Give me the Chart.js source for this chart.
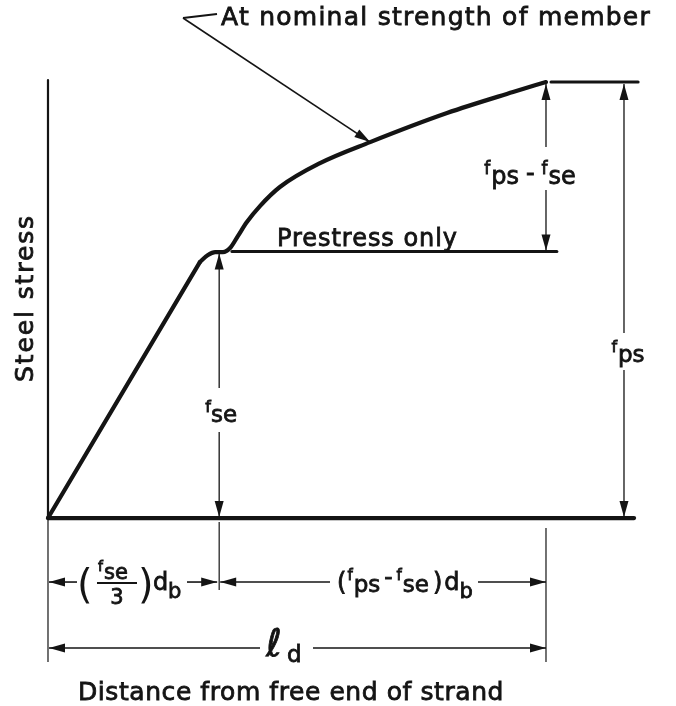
<!DOCTYPE html>
<html>
<head>
<meta charset="utf-8">
<script src="https://cdn.jsdelivr.net/npm/chart.js@4.4.1/dist/chart.umd.min.js"></script>
<style>
  html, body { margin: 0; padding: 0; background: #fff; }
  canvas { display: block; }
</style>
</head>
<body>
<canvas id="grafico" width="676" height="706"></canvas>
<script>
// Tensiones en ksi, distancias en diametros de cable (db)
const fps = 270;
const fse = 165;
const transferencia = fse / 3;        // (fse/3) db
const adherencia = fps - fse;         // (fps - fse) db
const ld = transferencia + adherencia;

// tramo recto inicial (longitud de transferencia)
const rectaX = [0, 48.8];
const rectaY = [0, 158.5];
// curva "At nominal strength of member"
const curvaX = [48.8, 51.4, 53.7, 56.2, 58.5, 61.0, 63.9, 68.1, 74.5, 87.4, 103.5, 128.2, 149.4, 160];
const curvaY = [158.5, 162.9, 164.7, 164.7, 167.2, 174.6, 183.3, 193.2, 205.0, 219.8, 232.8, 250.8, 263.8, 270];
const puntoFlecha = 10; // punto de la curva donde llega la flecha del titulo

// rectas del dibujo
const prestressX = [59.1, 163.5];
const topeX = [161.6, 189.6];
const baseX = [0, 188.3];
const ejeY = [0, 271.2];

// textos
const titulo = "At nominal strength of member";
const etiquetaPrestress = "Prestress only";
const etiquetaY = "Steel stress";
const etiquetaX = "Distance from free end of strand";

const tinta = "#141414";
const FUENTE = '"DejaVu Sans", sans-serif';

//---------------------------------- ayudas de dibujo ----------------------------------//
function linea(ctx, x1, y1, x2, y2, ancho) {
  ctx.beginPath();
  ctx.lineWidth = ancho || 1.3;
  ctx.moveTo(x1, y1);
  ctx.lineTo(x2, y2);
  ctx.stroke();
}

// texto un poco mas grueso, como el rotulado del original
function pintar(ctx, txt, x, y) {
  ctx.fillText(txt, x, y);
  ctx.lineWidth = 0.8;
  ctx.strokeText(txt, x, y);
}

// punta de flecha en (x2,y2) que viene desde (x1,y1)
function punta(ctx, x1, y1, x2, y2) {
  const largo = 16, ancho = 4.5;
  const a = Math.atan2(y2 - y1, x2 - x1);
  const c = Math.cos(a), s = Math.sin(a);
  ctx.beginPath();
  ctx.moveTo(x2, y2);
  ctx.lineTo(x2 - largo * c + ancho * s, y2 - largo * s - ancho * c);
  ctx.lineTo(x2 - largo * c - ancho * s, y2 - largo * s + ancho * c);
  ctx.closePath();
  ctx.fill();
}

function cotaV(ctx, x, yArriba, yAbajo, hueco1, hueco2) {
  linea(ctx, x, yArriba, x, hueco1);
  linea(ctx, x, hueco2, x, yAbajo);
  punta(ctx, x, yArriba + 20, x, yArriba);
  punta(ctx, x, yAbajo - 20, x, yAbajo);
}

function cotaH(ctx, y, xIzq, xDer, hueco1, hueco2) {
  linea(ctx, xIzq, y, hueco1, y, 1.6);
  linea(ctx, hueco2, y, xDer, y, 1.6);
  punta(ctx, xIzq + 20, y, xIzq, y);
  punta(ctx, xDer - 20, y, xDer, y);
}

// texto ajustado a un ancho usando letterSpacing
function textoAncho(ctx, txt, x, y, ancho, tam) {
  ctx.font = tam + "px " + FUENTE;
  ctx.letterSpacing = "0px";
  const w = ctx.measureText(txt).width;
  ctx.letterSpacing = ((ancho - w) / txt.length) + "px";
  ctx.textAlign = "left";
  pintar(ctx, txt, x, y);
  ctx.letterSpacing = "0px";
}

// partes: [texto, tamaño, dy, espacio despues]
function escribir(ctx, partes, xCentro, y) {
  let total = 0;
  partes.forEach(p => {
    ctx.font = p[1] + "px " + FUENTE;
    total += ctx.measureText(p[0]).width + (p[3] || 0);
  });
  let x = xCentro - total / 2;
  ctx.textAlign = "left";
  partes.forEach(p => {
    ctx.font = p[1] + "px " + FUENTE;
    pintar(ctx, p[0], x, y + p[2]);
    x += ctx.measureText(p[0]).width + (p[3] || 0);
  });
}

//---------------------------------- plugin de cotas y textos ----------------------------------//
const cotas = {
  id: "cotas",
  afterDatasetsDraw(chart) {
    const ctx = chart.ctx;
    const sx = chart.scales.x, sy = chart.scales.y;
    const x0 = sx.getPixelForValue(0);
    const xT = sx.getPixelForValue(transferencia);
    const xL = sx.getPixelForValue(ld);
    const xF = xL + 78;
    const y0 = sy.getPixelForValue(0);
    const yse = sy.getPixelForValue(fse);
    const yps = sy.getPixelForValue(fps);
    const fila1 = y0 + 64;
    const fila2 = y0 + 130;

    ctx.save();
    ctx.strokeStyle = tinta;
    ctx.fillStyle = tinta;
    ctx.textBaseline = "alphabetic";

    // lineas de referencia bajo el eje
    linea(ctx, x0, y0, x0, fila2 + 14, 1.2);
    linea(ctx, xT, y0 + 4, xT, fila1 + 8, 1.2);
    linea(ctx, xL, y0 + 10, xL, fila2 + 14, 1.2);

    // cotas verticales
    cotaV(ctx, xT, yse + 2, y0 - 1, 388, 432);
    cotaV(ctx, xL, yps + 2, yse - 1, 147, 190);
    cotaV(ctx, xF, yps + 2, y0 - 1, 333, 370);

    escribir(ctx, [["f", 16, -10, 0], ["se", 23, 0, 0]], xT + 2, 422);
    escribir(ctx, [["f", 17, -10, 1], ["ps", 24, 0, 7], ["-", 24, -3, 7], ["f", 17, -10, 1], ["se", 24, 0, 2]], xL - 15, 184);
    escribir(ctx, [["f", 16, -10, 1], ["ps", 23, 0, 0]], xF + 4, 362);

    // cotas horizontales
    cotaH(ctx, fila1, x0 + 1, xT - 2, x0 + 29, x0 + 139);
    cotaH(ctx, fila1, xT + 1, xL, 330, 478);
    cotaH(ctx, fila2, x0 + 1, xL, 260, 313);

    // (fse/3) db
    ctx.textAlign = "left";
    ctx.font = "40px " + FUENTE;
    ctx.fillText("(", x0 + 29, fila1 + 16);
    ctx.fillText(")", x0 + 90, fila1 + 16);
    ctx.font = "14px " + FUENTE;
    pintar(ctx, "f", x0 + 50, fila1 - 11);
    ctx.font = "21px " + FUENTE;
    pintar(ctx, "se", x0 + 56, fila1 - 3);
    ctx.textAlign = "center";
    pintar(ctx, "3", x0 + 69, fila1 + 22);
    linea(ctx, x0 + 49, fila1 + 1, x0 + 89, fila1 + 1, 2);
    ctx.textAlign = "left";
    ctx.font = "24px " + FUENTE;
    pintar(ctx, "d", x0 + 105, fila1 + 8);
    ctx.font = "21px " + FUENTE;
    pintar(ctx, "b", x0 + 120, fila1 + 16);

    // (fps - fse) db
    escribir(ctx, [["(", 24, 8, 1], ["f", 15, -2, 1], ["ps", 23, 10, 4], ["-", 23, 2, 4], ["f", 15, -2, 1], ["se", 23, 10, 4], [")", 24, 8, 2], ["d", 24, 8, 0], ["b", 21, 16, 0]], 405, fila1);

    // l d
    ctx.textAlign = "left";
    ctx.font = "italic 38px " + FUENTE;
    pintar(ctx, "\u2113", 266, fila2 + 8);
    ctx.font = "23px " + FUENTE;
    pintar(ctx, "d", 287, fila2 + 14);

    // flecha del titulo
    const el = chart.getDatasetMeta(0).data[puntoFlecha];
    const vx = 183, vy = 18;
    linea(ctx, vx, vy, 217, 14, 1.8);
    linea(ctx, vx, vy, el.x, el.y, 1.6);
    punta(ctx, vx, vy, el.x, el.y);

    // textos
    textoAncho(ctx, titulo, 221, 25, 430, 25);
    textoAncho(ctx, etiquetaPrestress, 277, 246, 181, 24);
    textoAncho(ctx, etiquetaX, 78, 700, 426, 25);

    ctx.save();
    ctx.translate(33, 382);
    ctx.rotate(-Math.PI / 2);
    textoAncho(ctx, etiquetaY, 0, 0, 168, 25);
    ctx.restore();

    ctx.restore();
  }
};

//---------------------------------- datos del grafico ----------------------------------//
function puntos(xs, ys) {
  return xs.map((v, i) => ({ x: v, y: ys[i] }));
}

const config = {
  type: "scatter",
  data: {
    datasets: [
      { data: puntos(curvaX, curvaY), borderWidth: 4.2, cubicInterpolationMode: "monotone" },
      { data: puntos(rectaX, rectaY), borderWidth: 4.2 },
      { data: puntos(prestressX, [fse, fse]), borderWidth: 3 },
      { data: puntos(topeX, [fps, fps]), borderWidth: 3 },
      { data: puntos(baseX, [0, 0]), borderWidth: 4.2 },
      { data: puntos([0, 0], ejeY), borderWidth: 2.2 }
    ].map(d => Object.assign({
      showLine: true,
      pointRadius: 0,
      borderColor: tinta,
      borderCapStyle: "round",
      borderJoinStyle: "round",
      fill: false
    }, d))
  },
  options: {
    responsive: false,
    animation: false,
    devicePixelRatio: 1,
    layout: { padding: 0 },
    plugins: { legend: { display: false }, tooltip: { enabled: false } },
    scales: {
      x: { type: "linear", display: false, min: -15.42, max: 201.77 },
      y: { type: "linear", display: false, min: -116.4, max: 320.8 }
    }
  },
  plugins: [cotas]
};

new Chart(document.getElementById("grafico"), config);
</script>
</body>
</html>
